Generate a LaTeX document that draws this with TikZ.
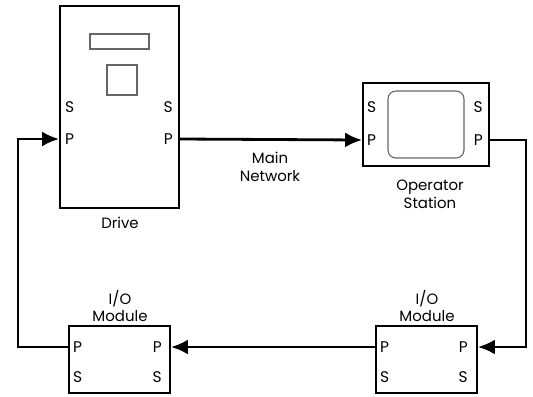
\documentclass[tikz,border=0pt]{standalone}
\usepackage{fontspec}
\setmainfont{Poppins}
\usetikzlibrary{arrows.meta}
\begin{document}
\begin{tikzpicture}[x=1bp,y=-1bp]
\tikzstyle{box}=[draw,line width=1.8bp,inner sep=0pt]
\tikzstyle{inner}=[draw,line width=1.1bp,gray!80!black]
\tikzstyle{port}=[inner sep=0pt,font=\fontsize{15.5}{17}\selectfont]
\tikzstyle{label}=[align=center,inner sep=0pt,font=\fontsize{15}{18}\selectfont]
\tikzstyle{arrow}=[draw,line width=2.8bp,-{Latex[length=17bp,width=15bp]}]
\useasboundingbox(0,0)rectangle(533,396);
% units
\node[box,minimum width=119bp,minimum height=202bp](drive)at(119.5,107){};
\node[box,minimum width=126bp,minimum height=83bp](op)at(426,124.5){};
\node[box,minimum width=101bp,minimum height=67bp](ioL)at(119.5,359.5){};
\node[box,minimum width=101bp,minimum height=67bp](ioR)at(426.5,359.5){};
\path[inner](90,34)rectangle(149,49);
\path[inner](107,65)rectangle(137,95);
\path[inner,rounded corners=8bp](388,91)rectangle(464,158);
% ports
\node[port,anchor=west](driveSl)at(65,107){S};
\node[port,anchor=west](drivePl)at(65,139){P};
\node[port,anchor=east](driveSr)at(173,107){S};
\node[port,anchor=east](drivePr)at(173,139){P};
\node[port,anchor=west](opSl)at(367,107){S};
\node[port,anchor=west](opPl)at(367,140){P};
\node[port,anchor=east](opSr)at(483,107){S};
\node[port,anchor=east](opPr)at(483,140){P};
\node[port,anchor=west](ioLPl)at(73,347){P};
\node[port,anchor=west](ioLSl)at(73,377){S};
\node[port,anchor=east](ioLPr)at(162,347){P};
\node[port,anchor=east](ioLSr)at(162,377){S};
\node[port,anchor=west](ioRPl)at(380,347){P};
\node[port,anchor=west](ioRSl)at(380,377){S};
\node[port,anchor=east](ioRPr)at(468,347){P};
\node[port,anchor=east](ioRSr)at(468,377){S};
% labels
\node[label](driveLbl)at(120,223){Drive};
\node[label](netLbl)at(270,167){Main\\Network};
\node[label](opLbl)at(430,194){Operator\\Station};
\node[label](ioLLbl)at(120,306){I/O\\Module};
\node[label](ioRLbl)at(427,306){I/O\\Module};
% network
\coordinate(lft)at(18,0);
\coordinate(rgt)at(526,0);
\path[arrow](drive.east|-drivePr)--(op.west|-opPl);
\path[arrow](op.east|-opPr)--(rgt|-opPr)--(rgt|-ioRPr)--(ioR.east|-ioRPr);
\path[arrow](ioR.west|-ioRPl)--(ioL.east|-ioLPr);
\path[arrow](ioL.west|-ioLPl)--(lft|-ioLPl)--(lft|-drivePl)--(drive.west|-drivePl);
\end{tikzpicture}
\end{document}
